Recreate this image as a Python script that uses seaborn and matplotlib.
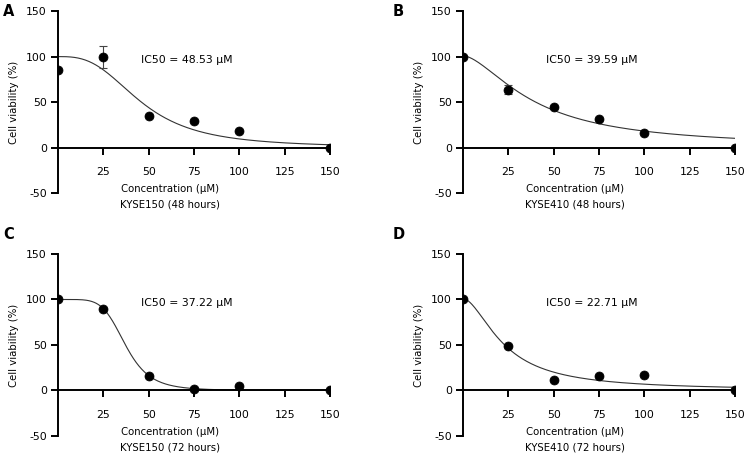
import numpy as np
import pandas as pd
import matplotlib
matplotlib.use("Agg")
import matplotlib.pyplot as plt
import seaborn as sns

sns.set_style("ticks")
plt.rcParams['font.family'] = ['DejaVu Sans']
plt.rcParams['axes.unicode_minus'] = False
plt.rcParams['text.color'] = 'black'
plt.rcParams['axes.labelcolor'] = 'black'
plt.rcParams['axes.edgecolor'] = 'black'

# concentrations (uM)
conc = [0, 25, 50, 75, 100, 150]

via_a = [85.5, 100, 34.5, 29, 18.5, 0]
via_b = [100, 63.5, 44.5, 31.5, 16.5, 0]
via_c = [100, 90, 16, 2, 5, 0]
via_d = [100, 48.5, 11.5, 16, 16.5, 0]

err_a = [0, 12, 1, 1, 1, 0]
err_b = [0, 5, 1, 1, 1, 0]
err_c = [0, 1, 1, 1, 1, 0]
err_d = [0, 1, 1, 1, 1, 0]

# fitted 4PL params: top, bottom, midpoint, hill
fit_a = (100, 0, 46.0, 2.9)
fit_b = (101, 0, 39.59, 1.64)
fit_c = (100, 0, 37.22, 5.5)
fit_d = (101, 0, 22.71, 1.76)

ic50_text = ["IC50 = 48.53 μM", "IC50 = 39.59 μM", "IC50 = 37.22 μM", "IC50 = 22.71 μM"]
cell_lines = ["KYSE150 (48 hours)", "KYSE410 (48 hours)", "KYSE150 (72 hours)", "KYSE410 (72 hours)"]
letters = ["A", "B", "C", "D"]

panels = [
    (via_a, err_a, fit_a),
    (via_b, err_b, fit_b),
    (via_c, err_c, fit_c),
    (via_d, err_d, fit_d),
]

# axes boxes in figure fractions [left, bottom, width, height]
boxes = [
    [0.0771, 0.582, 0.3617, 0.394],
    [0.6157, 0.582, 0.3617, 0.394],
    [0.0771, 0.0563, 0.3617, 0.394],
    [0.6157, 0.0563, 0.3617, 0.394],
]
letter_pos = [(0.004, 0.975), (0.522, 0.975), (0.004, 0.492), (0.522, 0.492)]

fs = 7.3

fig = plt.figure(figsize=(7.52, 4.62), dpi=100)

xs = np.linspace(0, 150, 300)
for i, (via, err, fit) in enumerate(panels):
    ax = fig.add_axes(boxes[i])
    top, bottom, mid, hill = fit
    curve = pd.DataFrame({"x": xs, "y": bottom + (top - bottom) / (1 + (xs / mid) ** hill)})
    sns.lineplot(data=curve, x="x", y="y", ax=ax, color="#333333", linewidth=0.8)

    ax.errorbar(conc, via, yerr=err, fmt="none", ecolor="#444444",
                elinewidth=0.8, capsize=3, capthick=0.8, zorder=3)
    df = pd.DataFrame({"conc": conc, "via": via})
    sns.scatterplot(data=df, x="conc", y="via", ax=ax, color="black", s=42,
                    edgecolor="black", zorder=4)

    ax.set_xlim(0, 150)
    ax.set_ylim(-50, 150)
    ax.set_xticks([25, 50, 75, 100, 125, 150])
    ax.set_yticks([-50, 0, 50, 100, 150])
    ax.spines['top'].set_visible(False)
    ax.spines['right'].set_visible(False)
    ax.spines['bottom'].set_position(('data', 0))
    ax.spines['left'].set_linewidth(1.4)
    ax.spines['bottom'].set_linewidth(1.4)
    ax.tick_params(axis='both', direction='out', length=5, width=1.4,
                   labelsize=fs + 0.5, colors='black', pad=3)
    ax.tick_params(axis='x', pad=9)
    ax.set_xlabel("")
    ax.set_ylabel("Cell viability (%)", fontsize=fs, labelpad=5)

    ax.text(46, 96, ic50_text[i], fontsize=fs + 0.5, ha="left", va="center")
    ax.text(62, -46, "Concentration (μM)", fontsize=fs, ha="center", va="center", clip_on=False)
    ax.text(62, -63, cell_lines[i], fontsize=fs, ha="center", va="center", clip_on=False)

    fig.text(letter_pos[i][0], letter_pos[i][1], letters[i], fontsize=10.5,
             fontweight="bold", ha="left", va="center")

fig.savefig("out.png", dpi=100)
